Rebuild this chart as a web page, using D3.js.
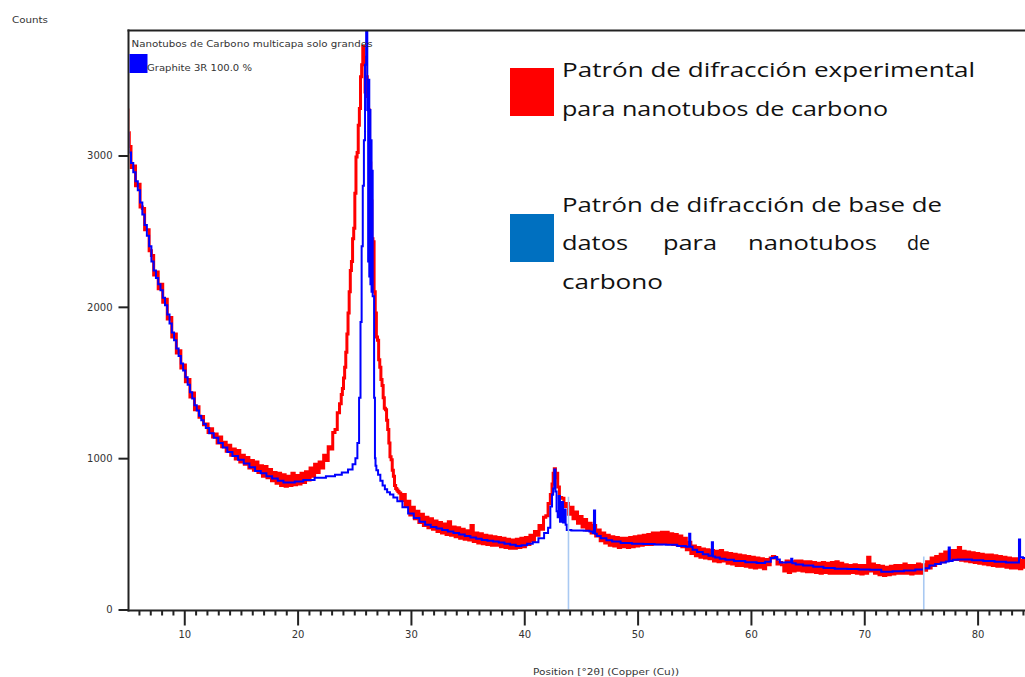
<!DOCTYPE html>
<html><head><meta charset="utf-8">
<script src="https://cdn.jsdelivr.net/npm/d3@7"></script>
<style>body{margin:0;background:#fff;} svg{display:block;}</style>
</head><body>
<svg id="c" width="1025" height="677"></svg>
<script>
// ---- data: experimental pattern (red), [2theta, counts]
const expPattern = [
[5.0,3300],[5.1,3150],[5.2,3060],[5.4,2920],[5.6,2930],[5.8,2800],[6.0,2810],[6.2,2660],[6.4,2650],[6.6,2510],[6.8,2510],[7.0,2370],[7.2,2340],[7.4,2210],[7.6,2230],[7.8,2120],[8.0,2150],[8.2,2030],[8.4,2050],[8.6,1920],[8.8,1930],[9.0,1800],[9.2,1820],[9.4,1695],[9.6,1710],[9.8,1595],
[10.0,1615],[10.2,1505],[10.4,1520],[10.6,1405],[10.8,1430],[11.0,1320],[11.2,1340],[11.4,1270],[11.6,1275],[11.8,1220],[12.0,1225],[12.2,1170],[12.4,1195],[12.6,1140],[12.8,1160],[13.0,1100],[13.2,1140],[13.4,1075],[13.6,1105],[13.8,1045],[14.0,1085],[14.2,1020],[14.4,1060],[14.6,995],[14.8,1050],
[15.0,975],[15.2,1020],[15.4,960],[15.6,1005],[15.8,935],[16.0,985],[16.2,920],[16.4,975],[16.6,905],[16.8,950],[17.0,880],[17.2,945],[17.4,870],[17.6,925],[17.8,850],[18.0,905],[18.2,835],[18.4,900],[18.6,820],[18.8,890],[19.0,815],[19.2,880],[19.4,820],[19.6,900],[19.8,825],
[20.0,885],[20.2,830],[20.4,900],[20.6,840],[20.8,910],[21.0,855],[21.2,935],[21.4,880],[21.6,960],[21.8,905],[22.0,975],[22.2,935],[22.4,1020],[22.6,985],[22.8,1075],[23.0,1060],[23.2,1170],[23.4,1190],[23.6,1300],[23.8,1360],[23.9,1420],
[24.0,1460],[24.1,1530],[24.2,1600],[24.3,1700],[24.4,1820],[24.5,1960],[24.6,2100],[24.7,2240],[24.8,2300],[24.9,2450],[25.0,2520],[25.1,2750],[25.2,2990],[25.3,3020],[25.4,3200],[25.5,3310],[25.6,3520],[25.7,3600],[25.8,3720],[25.9,3650],
[26.0,3420],[26.1,3520],[26.2,3390],[26.3,3300],[26.4,2950],[26.5,2700],[26.6,2450],[26.7,2430],[26.8,2100],[26.9,1960],[27.0,1800],[27.1,1780],[27.2,1650],[27.3,1600],[27.4,1520],[27.5,1480],[27.6,1400],[27.7,1330],[27.8,1320],[27.9,1250],
[28.0,1190],[28.1,1100],[28.2,1010],[28.3,990],[28.4,920],[28.5,880],[28.6,820],[28.7,800],[28.8,790],[28.9,780],[29.0,770],[29.2,720],[29.4,760],[29.6,680],[29.8,715],
[30.0,625],[30.2,675],[30.4,600],[30.6,650],[30.8,575],[31.0,630],[31.2,555],[31.4,610],[31.6,540],[31.8,600],[32.0,530],[32.2,585],[32.4,515],[32.6,575],[32.8,505],[33.0,565],[33.2,495],[33.4,580],[33.6,490],[33.8,545],[34.0,480],[34.2,540],[34.4,470],[34.6,530],[34.8,465],
[35.0,520],[35.2,460],[35.4,555],[35.6,450],[35.8,505],[36.0,440],[36.2,500],[36.4,435],[36.6,490],[36.8,430],[37.0,485],[37.2,425],[37.4,480],[37.6,425],[37.8,475],[38.0,415],[38.2,470],[38.4,410],[38.6,465],[38.8,405],[39.0,460],[39.2,405],[39.4,465],[39.6,410],[39.8,470],
[40.0,415],[40.2,475],[40.4,430],[40.6,490],[40.8,455],[41.0,515],[41.2,490],[41.4,555],[41.6,530],[41.8,610],[42.0,620],[42.2,700],[42.4,760],[42.5,830],[42.6,900],[42.7,930],[42.8,870],[42.9,900],[43.0,810],[43.2,740],[43.4,735],[43.6,680],[43.8,700],[44.0,630],[44.2,675],[44.4,600],[44.6,645],[44.8,570],
[45.0,615],[45.2,545],[45.4,595],[45.6,525],[45.8,570],[46.0,505],[46.2,555],[46.4,485],[46.6,525],[46.8,455],[47.0,505],[47.2,440],[47.4,490],[47.6,425],[47.8,480],[48.0,420],[48.2,475],[48.4,410],[48.6,470],[48.8,415],[49.0,470],[49.2,410],[49.4,475],[49.6,415],[49.8,480],
[50.0,420],[50.2,485],[50.4,425],[50.6,490],[50.8,430],[51.0,495],[51.2,430],[51.4,505],[51.6,435],[51.8,505],[52.0,435],[52.2,510],[52.4,440],[52.6,510],[52.8,435],[53.0,500],[53.2,430],[53.4,495],[53.6,425],[53.8,485],[54.0,415],[54.2,470],[54.4,395],[54.6,445],[54.8,370],
[55.0,420],[55.2,355],[55.4,410],[55.6,345],[55.8,400],[56.0,340],[56.2,395],[56.4,335],[56.6,390],[56.8,320],[57.0,385],[57.2,315],[57.4,390],[57.6,320],[57.8,375],[58.0,305],[58.2,370],[58.4,300],[58.6,365],[58.8,290],[59.0,360],[59.2,290],[59.4,355],[59.6,285],[59.8,350],
[60.0,280],[60.2,345],[60.4,275],[60.6,340],[60.8,280],[61.0,335],[61.2,270],[61.4,330],[61.6,295],[61.8,340],[62.0,350],[62.2,340],[62.4,300],[62.6,310],[62.8,295],[63.0,255],[63.2,320],[63.4,245],[63.6,315],[63.8,255],[64.0,320],[64.2,260],[64.4,320],[64.6,255],[64.8,315],
[65.0,250],[65.2,315],[65.4,250],[65.6,310],[65.8,245],[66.0,305],[66.2,240],[66.4,310],[66.6,245],[66.8,305],[67.0,240],[67.2,310],[67.4,240],[67.6,315],[67.8,240],[68.0,305],[68.2,240],[68.4,295],[68.6,240],[68.8,290],[69.0,245],[69.2,295],[69.4,240],[69.6,290],[69.8,235],
[70.0,290],[70.2,240],[70.4,345],[70.6,255],[70.8,300],[71.0,240],[71.2,290],[71.4,230],[71.6,285],[71.8,225],[72.0,280],[72.2,230],[72.4,285],[72.6,235],[72.8,290],[73.0,240],[73.2,290],[73.4,240],[73.6,300],[73.8,240],[74.0,290],[74.2,235],[74.4,290],[74.6,240],[74.8,300],
[75.0,240],[75.2,295],[75.4,260],[75.6,315],[75.8,275],[76.0,340],[76.2,290],[76.4,350],[76.6,305],[76.8,365],[77.0,315],[77.2,380],[77.4,325],[77.6,390],[77.8,330],[78.0,390],[78.2,330],[78.4,410],[78.6,325],[78.8,385],[79.0,320],[79.2,380],[79.4,315],[79.6,375],[79.8,310],
[80.0,370],[80.2,305],[80.4,365],[80.6,300],[80.8,360],[81.0,295],[81.2,360],[81.4,290],[81.6,355],[81.8,285],[82.0,350],[82.2,285],[82.4,345],[82.6,280],[82.8,340],[83.0,275],[83.2,335],[83.4,275],[83.6,335],[83.8,270],[84.0,325],[84.2,280]
];
// ---- data: reference pattern (blue), [2theta, counts]
const refPattern = [
[5.0,3150],[5.2,3020],[5.4,2950],[5.6,2890],[5.8,2830],[6.0,2770],[6.2,2690],[6.4,2610],[6.6,2540],[6.8,2470],[7.0,2400],[7.2,2300],[7.4,2240],[7.6,2190],[7.8,2150],[8.0,2110],[8.2,2060],[8.4,2010],[8.6,1950],[8.8,1890],[9.0,1830],[9.2,1780],[9.4,1725],[9.6,1675],[9.8,1625],
[10.0,1580],[10.2,1535],[10.4,1485],[10.6,1435],[10.8,1395],[11.0,1350],[11.2,1315],[11.4,1280],[11.6,1250],[11.8,1225],[12.0,1200],[12.4,1165],[12.8,1135],[13.2,1100],[13.6,1070],[14.0,1040],[14.5,1015],[15.0,990],[15.5,965],[16.0,940],[16.5,915],[17.0,900],[17.5,880],[18.0,865],[18.5,850],[19.0,840],[19.5,840],
[20.0,845],[21.0,855],[22.0,870],[23.0,880],[23.6,890],[24.2,905],[24.7,925],[25.0,960],[25.2,1000],[25.35,1100],[25.5,1400],[25.6,1900],[25.7,2400],[25.8,2800],[25.9,3100],[26.0,3600],[26.1,3900],[26.2,3300],[26.25,2300],[26.3,3500],[26.35,2200],[26.4,3300],[26.45,2150],[26.5,3100],[26.55,2100],[26.6,2900],[26.65,2070],[26.7,2070],[26.8,1400],[26.85,1000],[26.9,950],
[27.0,920],[27.2,890],[27.4,850],[27.6,820],[27.8,795],[28.0,775],[28.3,760],[28.6,740],[29.0,715],[29.5,675],[30.0,635],[30.5,605],[31.0,580],[31.5,560],[32.0,545],[32.5,535],[33.0,525],[33.5,515],[34.0,505],[34.5,495],[35.0,485],[35.5,475],[36.0,468],[36.5,460],[37.0,455],[37.5,450],[38.0,443],[38.5,435],[39.0,428],[39.5,420],
[40.0,425],[40.5,435],[41.0,445],[41.5,470],[42.0,505],[42.2,540],[42.4,680],[42.5,760],[42.6,800],[42.7,925],[42.8,780],[42.9,650],[43.0,610],[43.1,750],[43.2,580],[43.35,710],[43.5,575],[43.6,660],[43.7,560],[43.8,525],[44.5,522],[45.0,522],[45.5,520],[46.0,515],[46.1,505],[46.2,655],[46.3,500],[46.5,485],[47.0,470],[47.5,458],[48.0,450],[49.0,440],
[50.0,435],[51.0,432],[52.0,430],[53.0,428],[54.0,420],[54.5,415],[54.6,500],[54.7,415],[55.0,395],[55.5,380],[56.0,365],[56.5,355],[56.6,445],[56.7,350],[57.0,343],[57.5,335],[58.0,328],[59.0,320],
[60.0,312],[61.0,308],[61.5,315],[62.0,340],[62.2,347],[62.4,330],[62.7,310],[63.5,312],[63.6,336],[63.7,305],[64.2,297],[65.0,290],[66.0,282],[66.8,275],[68.0,270],[69.0,267],
[70.0,264],[71.0,262],[72.0,250],[73.0,252],[74.0,258],[75.0,264],[75.5,272],[76.0,290],[76.5,300],[77.0,310],[77.4,318],[77.5,410],[77.6,320],[78.0,328],[78.5,330],[79.0,330],
[80.0,325],[81.0,320],[82.0,315],[83.0,310],[83.6,310],[83.7,463],[83.8,345],[84.2,340]
];
// ---- data: reference stick positions (light blue), [2theta, counts]
const refSticks = [[43.9,745],[75.25,350]];
// ---- axes / labels
const yTickValues = [0,1000,2000,3000];
const xTickValues = [10,20,30,40,50,60,70,80];
const xMinorTickValues = [6,7,8,9,11,12,13,14,15,16,17,18,19,21,22,23,24,25,26,27,28,29,31,32,33,34,35,36,37,38,39,41,42,43,44,45,46,47,48,49,51,52,53,54,55,56,57,58,59,61,62,63,64,65,66,67,68,69,71,72,73,74,75,76,77,78,79,81,82,83,84];
const yAxisTitle = "Counts";
const xAxisTitle = "Position [°2θ] (Copper (Cu))";
const sampleName = "Nanotubos de Carbono multicapa solo grandes";
const phaseName = "Graphite 3R 100.0 %";
const legendRedLines = ["Patrón de difracción experimental", "para nanotubos de carbono"];
const legendBlueLines = ["Patrón de difracción de base de", "datos para nanotubos de", "carbono"];

const svg = d3.select('#c');
const x = d3.scaleLinear().domain([5, 84.2]).range([127.6, 1025.2]);
const y = d3.scaleLinear().domain([0, 3000]).range([609.5, 155.5]);
const axisCol = '#222';
const smallFont = 'DejaVu Sans, sans-serif';

svg.append('defs').append('clipPath').attr('id','plotclip')
  .append('rect').attr('x',129.5).attr('y',31).attr('width',1025-129.5).attr('height',610-31);

// data lines
const line = d3.line().x(d => x(d[0])).y(d => y(d[1])).curve(d3.curveStep);
const plot = svg.append('g').attr('clip-path','url(#plotclip)');
plot.append('path').datum(expPattern).attr('d', line)
  .attr('fill','none').attr('stroke','#ff0000').attr('stroke-width',3).attr('stroke-linejoin','miter');
plot.append('path').datum(refPattern).attr('d', line)
  .attr('fill','none').attr('stroke','#0000ff').attr('stroke-width',2);
plot.selectAll('line.stick').data(refSticks).join('line').attr('class','stick')
  .attr('x1', d => x(d[0])).attr('x2', d => x(d[0]))
  .attr('y1', y(0)).attr('y2', d => y(d[1]))
  .attr('stroke','#a9c9f2').attr('stroke-width',1.6);

// x axis major
const gx = svg.append('g').attr('transform','translate(0,610.5)')
  .call(d3.axisBottom(x).tickValues(xTickValues).tickSize(15).tickSizeOuter(0).tickFormat(d3.format('d')));
gx.select('.domain').remove();
gx.selectAll('.tick line').attr('stroke',axisCol).attr('stroke-width',2);
gx.selectAll('.tick text').attr('y',20).attr('dy','0.71em')
  .attr('font-family',smallFont).attr('font-size',10).attr('fill','#333');
// x axis minor
const gxm = svg.append('g').attr('transform','translate(0,610.5)')
  .call(d3.axisBottom(x).tickValues(xMinorTickValues).tickSize(5).tickSizeOuter(0).tickFormat(''));
gxm.select('.domain').remove();
gxm.selectAll('.tick line').attr('stroke',axisCol).attr('stroke-width',2);

// y axis
const gy = svg.append('g').attr('transform','translate(128.5,0)')
  .call(d3.axisLeft(y).tickValues(yTickValues).tickSize(10).tickPadding(6).tickFormat(d3.format('d')));
gy.select('.domain').remove();
gy.selectAll('.tick line').attr('stroke',axisCol).attr('stroke-width',2);
gy.selectAll('.tick text').attr('font-family',smallFont).attr('font-size',10).attr('fill','#333');

// frame lines
svg.append('line').attr('x1',128.5).attr('x2',128.5).attr('y1',29.5).attr('y2',611.5).attr('stroke',axisCol).attr('stroke-width',2);
svg.append('line').attr('x1',127.5).attr('x2',1025).attr('y1',610.5).attr('y2',610.5).attr('stroke',axisCol).attr('stroke-width',2);
svg.append('line').attr('x1',127.5).attr('x2',1025).attr('y1',30.5).attr('y2',30.5).attr('stroke',axisCol).attr('stroke-width',2);

// axis titles
svg.append('text').attr('x',12).attr('y',23).text(yAxisTitle)
  .attr('font-family',smallFont).attr('font-size',9.5).attr('fill','#333').attr('textLength',36).attr('lengthAdjust','spacingAndGlyphs');
svg.append('text').attr('x',533).attr('y',675).text(xAxisTitle)
  .attr('font-family',smallFont).attr('font-size',9.5).attr('fill','#333').attr('textLength',146).attr('lengthAdjust','spacingAndGlyphs');

// inner small legend
svg.append('text').attr('x',131.5).attr('y',46.5).text(sampleName)
  .attr('font-family',smallFont).attr('font-size',9.5).attr('fill','#333').attr('textLength',241).attr('lengthAdjust','spacingAndGlyphs');
svg.append('rect').attr('x',129.5).attr('y',54).attr('width',18).attr('height',19).attr('fill','#0000ff');
svg.append('text').attr('x',147).attr('y',70.5).text(phaseName)
  .attr('font-family',smallFont).attr('font-size',9.5).attr('fill','#333').attr('textLength',105).attr('lengthAdjust','spacingAndGlyphs');

// big legend
const bigFont = 'Open Sans, sans-serif';
svg.append('rect').attr('x',510).attr('y',68).attr('width',44).attr('height',48).attr('fill','#ff0000');
svg.append('rect').attr('x',510).attr('y',214).attr('width',44).attr('height',48).attr('fill','#0070c0');
function bigText(str, xx, yy, len) {
  const t = svg.append('text').attr('x',xx).attr('y',yy).text(str)
    .attr('font-family',bigFont).attr('font-size',20).attr('fill','#111');
  if (len) t.attr('textLength',len).attr('lengthAdjust','spacingAndGlyphs');
  return t;
}
bigText(legendRedLines[0], 562, 77, 413);
bigText(legendRedLines[1], 562, 115.5, 326);
bigText(legendBlueLines[0], 562, 211.5, 380);
// justified middle line
const words = legendBlueLines[1].split(' ');
const wordStarts = [562, 663, 748, 907];
const wordLens = [66, 54, 129, 23];
words.forEach((w,i) => bigText(w, wordStarts[i], 250, wordLens[i]));
bigText(legendBlueLines[2], 562, 288.5, 101);
</script>
</body></html>
